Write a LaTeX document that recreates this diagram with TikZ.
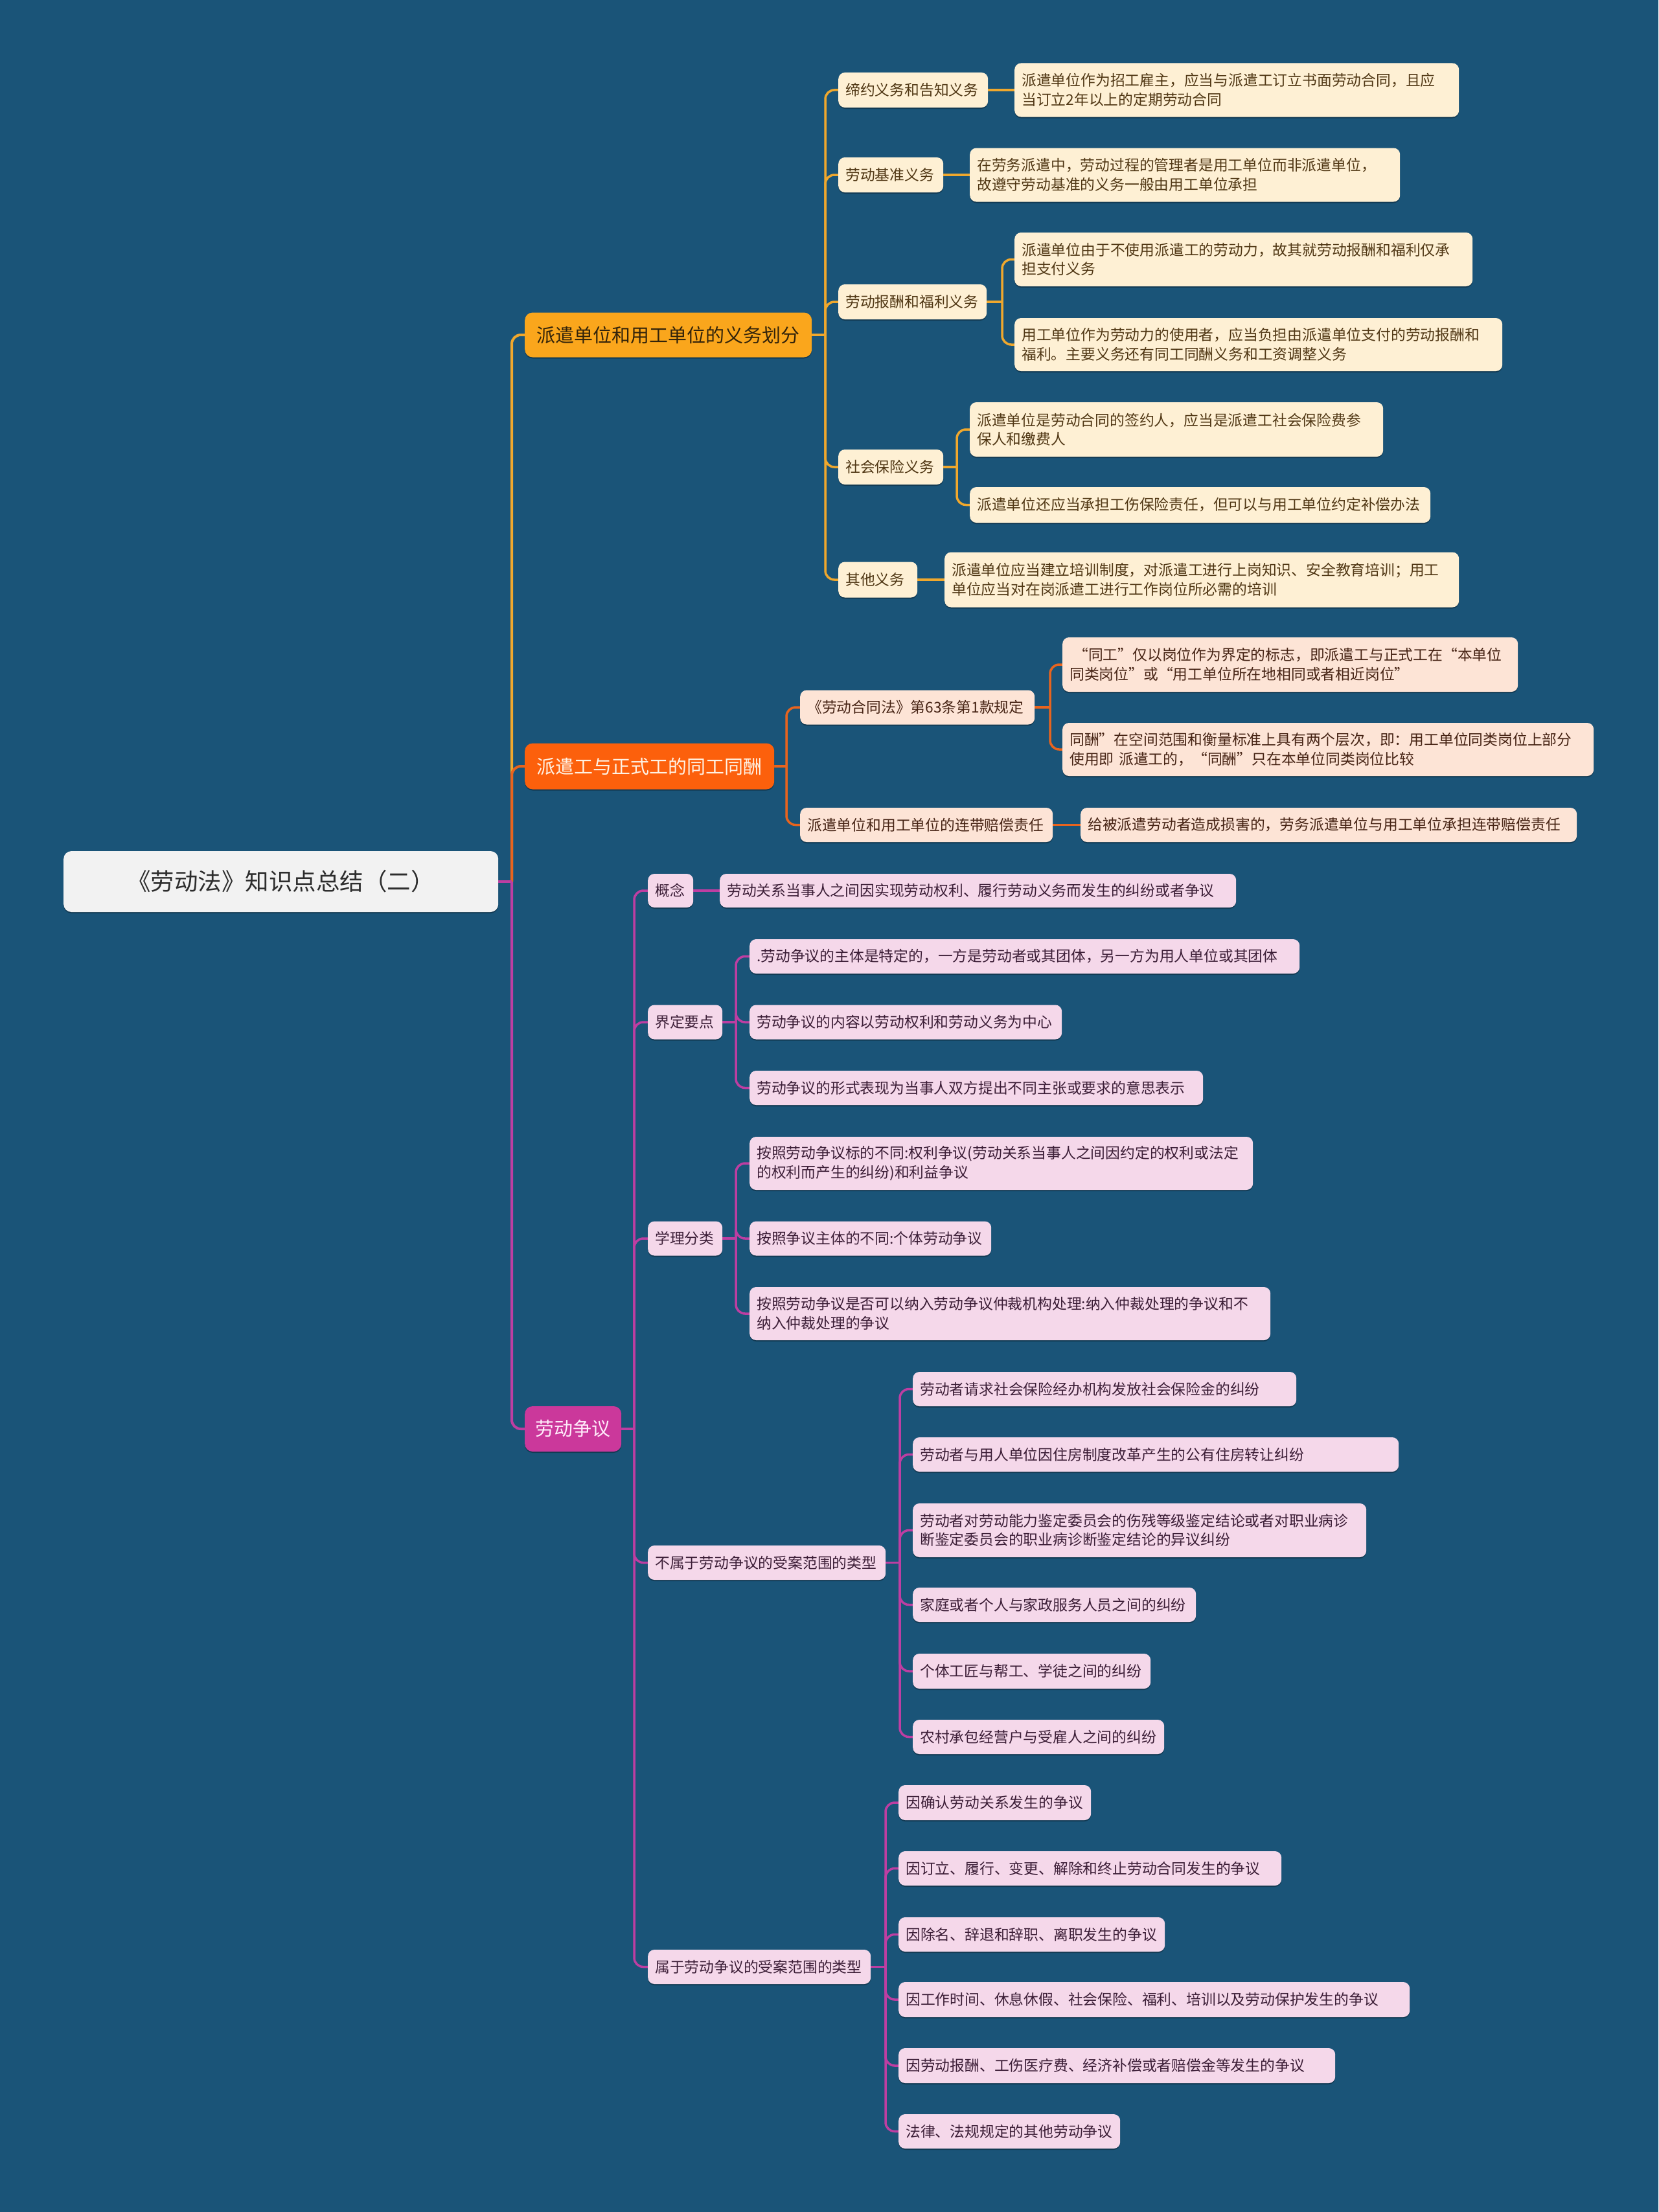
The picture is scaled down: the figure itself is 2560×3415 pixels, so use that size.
\documentclass[tikz,border=0pt]{standalone}
\usepackage{fontspec}
\newfontfamily\cjk{Noto Sans CJK SC}
\usetikzlibrary{shadows}
\pgfdeclarelayer{background}
\pgfsetlayers{background,main}
\definecolor{bg}{RGB}{26,84,120}
\definecolor{rootF}{RGB}{242,242,242}
\definecolor{rootT}{RGB}{45,45,45}
\definecolor{aF}{RGB}{250,166,28}
\definecolor{aT}{RGB}{50,35,10}
\definecolor{aL}{RGB}{240,168,45}
\definecolor{creamF}{RGB}{254,240,212}
\definecolor{creamT}{RGB}{80,55,20}
\definecolor{bF}{RGB}{252,96,12}
\definecolor{bT}{RGB}{255,242,228}
\definecolor{bL}{RGB}{232,100,30}
\definecolor{peachF}{RGB}{253,228,214}
\definecolor{peachT}{RGB}{70,35,20}
\definecolor{cF}{RGB}{203,56,155}
\definecolor{cT}{RGB}{255,236,250}
\definecolor{cL}{RGB}{190,62,162}
\definecolor{pinkF}{RGB}{245,216,234}
\definecolor{pinkT}{RGB}{60,30,55}
\newcommand\nd[7]{\pgfmathsetmacro\ndtw{#5-22}\node[#2,anchor=west,minimum width=#5pt,text width=\ndtw pt,minimum height=#6pt] (#1) at (#3,#4) {#7};}
\begin{document}
\begin{tikzpicture}[x=1pt,y=-1pt,
  box/.style={rounded corners=10pt, inner xsep=11pt, inner ysep=0pt, align=left,
    font=\cjk\fontsize{22.8}{29.5}\selectfont,
    drop shadow={shadow xshift=0pt, shadow yshift=-2pt, opacity=0.3, fill=black}},
  rootbox/.style={box, rounded corners=12pt, align=center, fill=rootF, text=rootT, font=\cjk\fontsize{36.5}{44}\selectfont},
  lone/.style={box, rounded corners=12pt, align=center, font=\cjk\fontsize{29}{36}\selectfont},
  ona/.style={lone, fill=aF, text=aT},
  onb/.style={lone, fill=bF, text=bT},
  onc/.style={lone, fill=cF, text=cT},
  cream/.style={box, fill=creamF, text=creamT},
  peach/.style={box, fill=peachF, text=peachT},
  pink/.style={box, fill=pinkF, text=pinkT},
  lnA/.style={draw=aL, line width=3.5pt, rounded corners=14pt},
  lnB/.style={draw=bL, line width=3.5pt, rounded corners=14pt},
  lnC/.style={draw=cL, line width=3.5pt, rounded corners=14pt},
  main/.style={line width=4pt}]
\begin{pgfonlayer}{background}
\fill[bg] (0,0) rectangle (2560,3415);
\end{pgfonlayer}
\useasboundingbox (0,0) rectangle (2560,3415);

% root and level 1
\nd{root}{rootbox}{98}{1361}{671}{94}{《劳动法》知识点总结（二）}
\nd{la}{ona}{810}{517}{443}{69}{派遣单位和用工单位的义务划分}
\nd{lb}{onb}{810}{1183}{385}{71}{派遣工与正式工的同工同酬}
\nd{lc}{onc}{810}{2206}{149}{70}{劳动争议}

% branch A
\nd{a1}{cream}{1294}{139}{231}{54}{缔约义务和告知义务}
\nd{a2}{cream}{1294}{270}{162}{54}{劳动基准义务}
\nd{a3}{cream}{1294}{466}{229}{54}{劳动报酬和福利义务}
\nd{a4}{cream}{1294}{721}{162}{54}{社会保险义务}
\nd{a5}{cream}{1294}{895}{122}{55}{其他义务}
\nd{a1l}{cream}{1566}{139}{686}{83}{派遣单位作为招工雇主，应当与派遣工订立书面劳动合同，且应\\当订立2年以上的定期劳动合同}
\nd{a2l}{cream}{1497}{270}{664}{83}{在劳务派遣中，劳动过程的管理者是用工单位而非派遣单位，\\故遵守劳动基准的义务一般由用工单位承担}
\nd{a3la}{cream}{1566}{400.5}{707}{83}{派遣单位由于不使用派遣工的劳动力，故其就劳动报酬和福利仅承\\担支付义务}
\nd{a3lb}{cream}{1566}{532}{753}{82}{用工单位作为劳动力的使用者，应当负担由派遣单位支付的劳动报酬和\\福利。主要义务还有同工同酬义务和工资调整义务}
\nd{a4la}{cream}{1497}{663}{638}{84}{派遣单位是劳动合同的签约人，应当是派遣工社会保险费参\\保人和缴费人}
\nd{a4lb}{cream}{1497}{779.5}{711}{55}{派遣单位还应当承担工伤保险责任，但可以与用工单位约定补偿办法}
\nd{a5l}{cream}{1458}{895}{794}{85}{派遣单位应当建立培训制度，对派遣工进行上岗知识、安全教育培训；用工\\单位应当对在岗派遣工进行工作岗位所必需的培训}

% branch B
\nd{b1}{peach}{1235}{1092}{362}{53}{《劳动合同法》第63条第1款规定}
\nd{b1a}{peach}{1640}{1026}{703}{84}{\hspace*{6pt}“同工”仅以岗位作为界定的标志，即派遣工与正式工在“本单位\\同类岗位”或“用工单位所在地相同或者相近岗位”}
\nd{b1b}{peach}{1640}{1157}{820}{82}{同酬”在空间范围和衡量标准上具有两个层次，即：用工单位同类岗位上部分\\使用即 派遣工的，“同酬”只在本单位同类岗位比较}
\nd{b2}{peach}{1235}{1273.5}{390}{53}{派遣单位和用工单位的连带赔偿责任}
\nd{b2l}{peach}{1668}{1273.5}{766}{53}{给被派遣劳动者造成损害的，劳务派遣单位与用工单位承担连带赔偿责任}

% branch C
\nd{c1}{pink}{1000}{1375}{70}{52}{概念}
\nd{c1l}{pink}{1111}{1375}{797}{52}{劳动关系当事人之间因实现劳动权利、履行劳动义务而发生的纠纷或者争议}
\nd{c2}{pink}{1000}{1578}{115}{53}{界定要点}
\nd{c2a}{pink}{1157}{1476.5}{849}{53}{.劳动争议的主体是特定的，一方是劳动者或其团体，另一方为用人单位或其团体}
\nd{c2b}{pink}{1157}{1578}{482}{53}{劳动争议的内容以劳动权利和劳动义务为中心}
\nd{c2c}{pink}{1157}{1679.5}{700}{53}{劳动争议的形式表现为当事人双方提出不同主张或要求的意思表示}
\nd{c3}{pink}{1000}{1912}{115}{53}{学理分类}
\nd{c3a}{pink}{1157}{1796}{777}{82}{按照劳动争议标的不同:权利争议(劳动关系当事人之间因约定的权利或法定\\的权利而产生的纠纷)和利益争议}
\nd{c3b}{pink}{1157}{1912}{373}{53}{按照争议主体的不同:个体劳动争议}
\nd{c3c}{pink}{1157}{2028}{804}{82}{按照劳动争议是否可以纳入劳动争议仲裁机构处理:纳入仲裁处理的争议和不\\纳入仲裁处理的争议}
\nd{c4}{pink}{1000}{2412.5}{367}{53}{不属于劳动争议的受案范围的类型}
\nd{c41}{pink}{1409}{2144.5}{592}{53}{劳动者请求社会保险经办机构发放社会保险金的纠纷}
\nd{c42}{pink}{1409}{2245.5}{750}{53}{劳动者与用人单位因住房制度改革产生的公有住房转让纠纷}
\nd{c43}{pink}{1409}{2362.5}{700}{83}{劳动者对劳动能力鉴定委员会的伤残等级鉴定结论或者对职业病诊\\断鉴定委员会的职业病诊断鉴定结论的异议纠纷}
\nd{c44}{pink}{1409}{2477.5}{437}{53}{家庭或者个人与家政服务人员之间的纠纷}
\nd{c45}{pink}{1409}{2580}{367}{54}{个体工匠与帮工、学徒之间的纠纷}
\nd{c46}{pink}{1409}{2681.5}{388}{53}{农村承包经营户与受雇人之间的纠纷}
\nd{c5}{pink}{1000}{3036.5}{344}{53}{属于劳动争议的受案范围的类型}
\nd{c51}{pink}{1387}{2783}{297}{54}{因确认劳动关系发生的争议}
\nd{c52}{pink}{1387}{2884.5}{591}{53}{因订立、履行、变更、解除和终止劳动合同发生的争议}
\nd{c53}{pink}{1387}{2986.5}{411}{53}{因除名、辞退和辞职、离职发生的争议}
\nd{c54}{pink}{1387}{3087}{789}{54}{因工作时间、休息休假、社会保险、福利、培训以及劳动保护发生的争议}
\nd{c55}{pink}{1387}{3189}{674}{54}{因劳动报酬、工伤医疗费、经济补偿或者赔偿金等发生的争议}
\nd{c56}{pink}{1387}{3290.5}{342}{53}{法律、法规规定的其他劳动争议}

% trunk coordinates
\coordinate (tR) at (790,1361);
\coordinate (tA) at (1274,517);
\coordinate (t3) at (1547,466);
\coordinate (t4) at (1477,721);
\coordinate (tB) at (1214,1183);
\coordinate (tb1) at (1621,1092);
\coordinate (tC) at (979,2206);
\coordinate (tc2) at (1136,1578);
\coordinate (tc3) at (1136,1912);
\coordinate (tc4) at (1389,2412.5);
\coordinate (tc5) at (1367,3036.5);

\begin{pgfonlayer}{background}
% root to level 1
\draw[lnA,main] (tR) |- (la.west);
\draw[lnB,main] (tR) |- (lb.west);
\draw[lnC,main] (tR) |- (lc.west);
\draw[lnC,main] (root.east) -- (tR);
% branch A
\draw[lnA] (la.east) -- (tA);
\foreach \n in {a1,a2,a3,a4,a5} {\draw[lnA] (tA) |- (\n.west);}
\draw[lnA] (a1.east) -- (a1l.west);
\draw[lnA] (a2.east) -- (a2l.west);
\draw[lnA] (a3.east) -- (t3);
\draw[lnA] (t3) |- (a3la.west);
\draw[lnA] (t3) |- (a3lb.west);
\draw[lnA] (a4.east) -- (t4);
\draw[lnA] (t4) |- (a4la.west);
\draw[lnA] (t4) |- (a4lb.west);
\draw[lnA] (a5.east) -- (a5l.west);
% branch B
\draw[lnB] (lb.east) -- (tB);
\draw[lnB] (tB) |- (b1.west);
\draw[lnB] (tB) |- (b2.west);
\draw[lnB] (b1.east) -- (tb1);
\draw[lnB] (tb1) |- (b1a.west);
\draw[lnB] (tb1) |- (b1b.west);
\draw[lnB] (b2.east) -- (b2l.west);
% branch C
\draw[lnC] (lc.east) -- (tC);
\foreach \n in {c1,c2,c3,c4,c5} {\draw[lnC] (tC) |- (\n.west);}
\draw[lnC] (c1.east) -- (c1l.west);
\draw[lnC] (c2.east) -- (tc2);
\foreach \n in {c2a,c2b,c2c} {\draw[lnC] (tc2) |- (\n.west);}
\draw[lnC] (c3.east) -- (tc3);
\foreach \n in {c3a,c3b,c3c} {\draw[lnC] (tc3) |- (\n.west);}
\draw[lnC] (c4.east) -- (tc4);
\foreach \n in {c41,c42,c43,c44,c45,c46} {\draw[lnC] (tc4) |- (\n.west);}
\draw[lnC] (c5.east) -- (tc5);
\foreach \n in {c51,c52,c53,c54,c55,c56} {\draw[lnC] (tc5) |- (\n.west);}
\end{pgfonlayer}
\end{tikzpicture}
\end{document}
